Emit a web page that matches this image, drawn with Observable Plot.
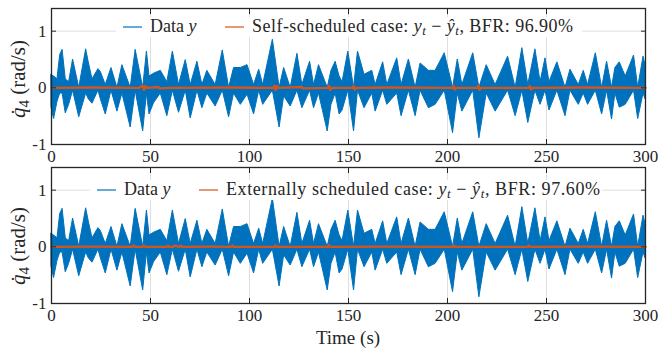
<!DOCTYPE html>
<html><head><meta charset="utf-8">
<script src="https://cdn.jsdelivr.net/npm/d3@7"></script>
<script src="https://cdn.jsdelivr.net/npm/@observablehq/plot@0.6"></script>
<style>
body{margin:0;background:#fff;}
#chart{position:relative;width:660px;height:351px;font-family:"Liberation Serif",serif;}
#chart svg{position:absolute;left:0;overflow:visible;}
</style></head><body><div id="chart"></div>
<script>
// ---- data ----
// measured data y: envelope of the (dense) signal, times in s
const envT = [0,1.3,3.0,4.4,5.6,7.2,8.9,10.9,14.0,17.5,18.8,20.7,23.7,24.9,27.4,30.3,33.3,35.8,40.0,42.5,46.3,48.2,49.5,51.8,55.2,58.5,61.3,64.4,67.8,70.3,73.7,76.2,78.7,82.9,86.5,89.7,92.2,95.6,99.0,102.3,104.9,106.9,111.8,115.2,117.5,120.8,124.2,126.7,130.6,132.6,135.1,139.5,141.4,143.5,145.5,147.0,149.9,152.8,154.8,158.1,162.0,163.7,167.5,169.6,174.6,176.8,180.5,183.9,186.4,190.6,194.0,198.6,202.8,205.2,207.5,213.0,216.1,219.8,224.3,230.6,234.4,237.8,240.8,244.4,247.0,249.5,251.5,255.5,259.6,262.1,266.3,268.8,271.0,274.9,278.1,280.6,283.1,284.8,287.0,290.0,294.2,296.3,299.0,300];
const envHi = [0.23,0.2,0.15,0.58,0.67,0.15,0.1,0.5,0.0,0.68,0.45,0.15,0.33,0.28,0.05,0.35,0.0,0.4,0.0,0.67,0.0,0.64,0.2,0.25,0.3,0.1,0.64,0.05,0.49,0.05,0.46,0.05,0.3,0.05,0.66,0.0,0.35,0.35,0.4,0.05,0.32,0.05,0.85,0.0,0.35,0.0,0.6,0.05,0.46,0.05,0.4,0.0,0.3,0.46,0.2,0.1,0.64,0.0,0.64,0.23,0.3,0.05,0.45,0.05,0.52,0.05,0.5,0.0,0.43,0.3,0.3,0.61,0.0,0.5,0.05,0.61,0.0,0.4,0.05,0.55,0.0,0.7,0.05,0.68,0.1,0.52,0.1,0.45,0.0,0.32,0.05,0.3,0.05,0.61,0.0,0.46,0.0,0.35,0.45,0.2,0.57,0.0,0.55,0.4];
const envLo = [-0.35,-0.55,-0.25,-0.1,-0.1,-0.45,-0.3,-0.05,-0.52,-0.1,-0.2,-0.28,-0.05,-0.2,-0.47,-0.05,-0.42,-0.1,-0.7,-0.05,-0.77,-0.1,-0.47,-0.27,-0.1,-0.5,-0.05,-0.44,-0.05,-0.54,-0.05,-0.36,-0.1,-0.33,-0.05,-0.52,-0.1,-0.3,-0.12,-0.47,-0.05,-0.3,-0.05,-0.7,-0.15,-0.33,-0.05,-0.36,-0.05,-0.36,-0.1,-0.77,-0.3,-0.1,-0.47,-0.4,-0.05,-0.77,-0.05,-0.36,-0.1,-0.42,-0.05,-0.3,-0.1,-0.5,-0.05,-0.5,-0.05,-0.36,-0.3,-0.05,-0.8,-0.1,-0.42,-0.05,-0.89,-0.1,-0.42,-0.05,-0.5,-0.05,-0.62,-0.05,-0.3,-0.05,-0.4,-0.05,-0.5,-0.05,-0.3,-0.1,-0.3,-0.05,-0.47,-0.05,-0.56,-0.1,-0.35,-0.3,-0.05,-0.55,-0.1,-0.2];

// residual y_t - yhat_t, self-scheduled case (top)
const resTopT = [0,20,44,46,46.7,47.4,48.2,54,54.6,60,90,112,112.6,113.2,113.8,114.5,126.5,127,139.5,140.2,140.8,141.5,152,152.6,153.2,154,170,202.5,203.1,203.7,204.4,215,215.6,216.2,217,241,241.6,242.2,243,270,300];
const resTopV = [0,0.005,0,0.035,-0.035,0.03,0,0.015,-0.01,0,0.005,0,0.035,-0.035,0.03,0,0.015,-0.01,0,0.035,-0.035,0,0,0.03,-0.03,0,0.005,0,0.035,-0.03,0,0,0.035,-0.035,0,0,0.03,-0.03,0,0.005,0];
// residual, externally scheduled case (bottom)
const resBotT = [0,20,41,41.6,42.2,46,46.6,47.2,58.2,58.8,59.4,61.5,62.1,64.8,65.4,66,80,90.8,91.4,92,112.5,113.1,113.7,139.5,140.1,140.7,170,202.5,203.1,203.7,240.5,241.1,241.7,270,300];
const resBotV = [0,0.004,0,0.025,0,0,0.025,0,0,0.02,0,0,0.02,0,0.02,0,0.004,0,0.025,0,0,0.025,0,0,0.03,0,0.004,0,0.025,0,0,0.025,0,0.004,0];

const xTicks = [0,50,100,150,200,250,300];
const yTicks = [-1,0,1];
const legendTop = {a: "Data ", b: "Self-scheduled case: ", bfr: "BFR: 96.90%"};
const legendBot = {a: "Data ", b: "Externally scheduled case: ", bfr: "BFR: 97.60%"};

const BLUE = "#0072BD", ORANGE = "#D95319", AX = "#262626", GRID = "#dfdfdf";
const FONT = "Liberation Serif, serif";

function panel(resT, resV, h, mt, mb) {
  const sig = envT.map((t, i) => ({t, hi: envHi[i], lo: envLo[i]}));
  const res = resT.map((t, i) => ({t, v: resV[i]}));
  return Plot.plot({
    width: 660, height: h, marginLeft: 51, marginRight: 15, marginTop: mt, marginBottom: mb,
    style: {fontFamily: FONT, fontSize: "17px", color: AX, background: "transparent", overflow: "visible"},
    x: {domain: [0, 300], label: null},
    y: {domain: [-1, 1.4], label: null},
    marks: [
      Plot.gridX(xTicks, {stroke: GRID, strokeOpacity: 1}),
      Plot.gridY(yTicks, {stroke: GRID, strokeOpacity: 1}),
      Plot.areaY(sig, {x: "t", y1: "lo", y2: "hi", fill: BLUE, stroke: BLUE, strokeWidth: 1}),
      Plot.lineY(res, {x: "t", y: "v", stroke: ORANGE, strokeWidth: 2.4}),
      Plot.frame({stroke: AX, strokeWidth: 1.3}),
      Plot.axisX(xTicks, {anchor: "bottom", tickSize: -5, text: null, stroke: AX, label: null}),
      Plot.axisX(xTicks, {anchor: "top", tickSize: -5, text: null, stroke: AX, label: null}),
      Plot.axisY(yTicks, {anchor: "left", tickSize: -5, text: null, stroke: AX, label: null}),
      Plot.axisY(yTicks, {anchor: "right", tickSize: -5, text: null, stroke: AX, label: null}),
      Plot.axisX(xTicks, {anchor: "bottom", tickSize: 0, tickPadding: 5, fontSize: 17, fill: AX, label: null}),
      Plot.axisY(yTicks, {anchor: "left", tickSize: 0, tickPadding: 5, fontSize: 17, fill: AX, label: null, tickFormat: d => String(d)})
    ]
  });
}

function addLegend(svg, L, yLine, yText, x1, x2, boxX, boxW, len2) {
  const g = d3.select(svg).append("g").attr("font-family", FONT).attr("font-size", 18)
    .attr("fill", AX).attr("text-anchor", "start");
  g.append("rect").attr("x", boxX).attr("y", yLine - 10).attr("width", boxW).attr("height", 20).attr("fill", "#fff");
  g.append("line").attr("x1", x1).attr("x2", x1 + 19).attr("y1", yLine).attr("y2", yLine).attr("stroke", BLUE).attr("stroke-width", 1.2);
  const t1 = g.append("text").attr("x", x1 + 27).attr("y", yText).attr("text-anchor", "start");
  t1.append("tspan").text(L.a);
  t1.append("tspan").attr("font-style", "italic").text("y");
  g.append("line").attr("x1", x2).attr("x2", x2 + 19).attr("y1", yLine).attr("y2", yLine).attr("stroke", ORANGE).attr("stroke-width", 1.2);
  const t2 = g.append("text").attr("x", x2 + 27).attr("y", yText).attr("text-anchor", "start")
    .attr("textLength", len2).attr("lengthAdjust", "spacing");
  t2.append("tspan").text(L.b);
  t2.append("tspan").attr("font-style", "italic").text("y");
  t2.append("tspan").attr("font-style", "italic").attr("font-size", 13).attr("dy", 3).text("t");
  t2.append("tspan").attr("dy", -3).text(" \u2212 ");
  t2.append("tspan").attr("font-style", "italic").text("\u0177");
  t2.append("tspan").attr("font-style", "italic").attr("font-size", 13).attr("dy", 3).text("t");
  t2.append("tspan").attr("dy", -3).text(", " + L.bfr);
}

function addYLabel(svg, cy) {
  const t = d3.select(svg).append("text")
    .attr("transform", `translate(25,${cy}) rotate(-90)`)
    .attr("text-anchor", "middle").attr("font-family", FONT).attr("font-size", 21).attr("fill", AX);
  t.append("tspan").attr("font-style", "italic").text("q\u0307");
  t.append("tspan").attr("font-size", 15).attr("dy", 4).text("4");
  t.append("tspan").attr("dy", -4).text(" (rad/s)");
}

const chart = document.getElementById("chart");
const top1 = panel(resTopT, resTopV, 162, 8, 18);
top1.style.top = "0px";
addLegend(top1, legendTop, 27, 32, 123, 225, 116, 466, 321);
addYLabel(top1, 79);
chart.appendChild(top1);

const bot = panel(resBotT, resBotV, 191, 7, 48);
bot.style.top = "160px";
addLegend(bot, legendBot, 30, 35, 97, 199, 90, 512, 374);
addYLabel(bot, 86);
d3.select(bot).append("text").attr("x", 348).attr("y", 184).attr("text-anchor", "middle")
  .attr("font-family", FONT).attr("font-size", 19).attr("fill", AX).text("Time (s)");
chart.appendChild(bot);
</script></body></html>
